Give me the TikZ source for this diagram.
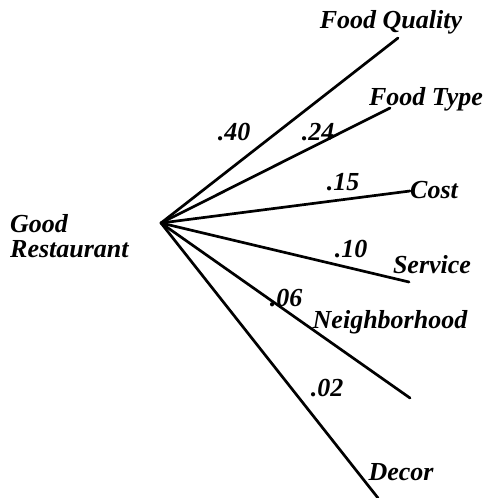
\documentclass[tikz,border=0pt]{standalone}
\usepackage{fontspec}
\setmainfont{Liberation Serif}
\begin{document}
\begin{tikzpicture}[x=1pt,y=-1pt,
  lbl/.style={font=\fontsize{26}{25}\selectfont\bfseries\itshape, inner sep=0pt},
  branch/.style={line width=2.7pt, line cap=round}]
\useasboundingbox (0,0) rectangle (485,498);
\coordinate (o) at (161,223);
\coordinate (fq) at (398,38);
\coordinate (ft) at (390,108);
\coordinate (c) at (410,191);
\coordinate (s) at (409,282);
\coordinate (n) at (410,398);
\coordinate (d) at (378,498);
\draw[branch] (o) -- (fq);
\draw[branch] (o) -- (ft);
\draw[branch] (o) -- (c);
\draw[branch] (o) -- (s);
\draw[branch] (o) -- (n);
\draw[branch] (o) -- (d);
\node[lbl, anchor=west, align=left] (gr) at (10,236) {Good\\Restaurant};
\node[lbl] (lfq) at (391,22) {Food Quality};
\node[lbl] (lft) at (426,99) {Food Type};
\node[lbl] (lc) at (434,190) {Cost};
\node[lbl] (ls) at (432,265) {Service};
\node[lbl] (ln) at (390,322) {Neighborhood};
\node[lbl] (ld) at (401,472) {Decor};
\node[lbl] (p40) at (234,132) {.40};
\node[lbl] (p24) at (318,132) {.24};
\node[lbl] (p15) at (343,182) {.15};
\node[lbl] (p10) at (351,249) {.10};
\node[lbl] (p06) at (286,298) {.06};
\node[lbl] (p02) at (327,388) {.02};
\end{tikzpicture}
\end{document}
